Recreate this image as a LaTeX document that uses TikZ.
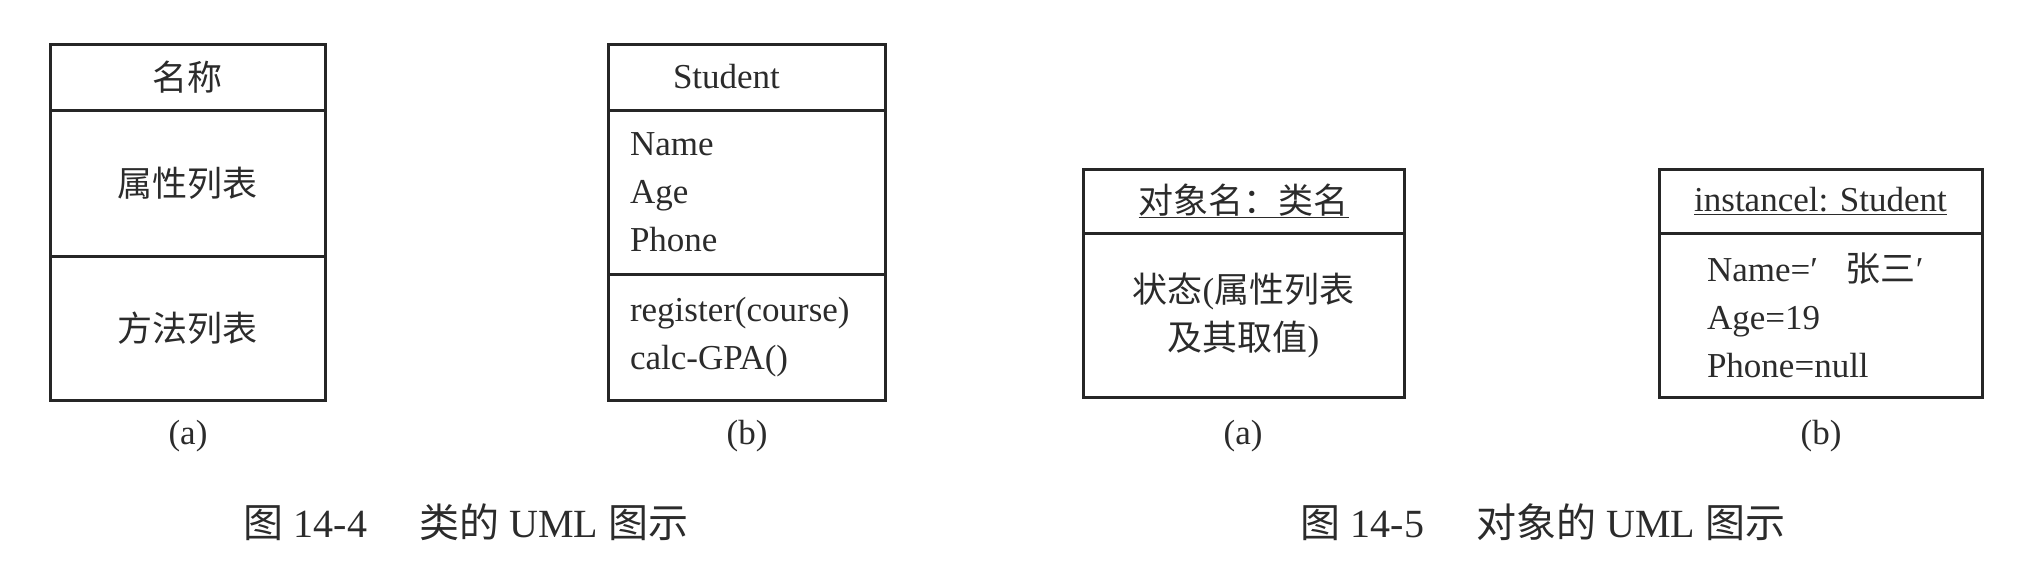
\documentclass[tikz,border=0pt]{standalone}
\usepackage{fontspec}
\setmainfont{Liberation Serif}
\newfontfamily\cjk{Noto Sans CJK SC}
\usetikzlibrary{positioning}
\definecolor{umlInk}{HTML}{262626}
\definecolor{umlText}{HTML}{2B2B2B}
\newcommand\umlfont{\fontsize{35}{48}\selectfont}
\newcommand\umlcapfont{\fontsize{40}{46}\selectfont}
\tikzset{
  uml part/.style={draw=umlInk, line width=3pt, inner sep=0pt, outer sep=0pt, font=\umlfont, text=umlText},
  uml list/.style={uml part, align=left, text width=233pt, inner xsep=22pt},
  uml tag/.style={font=\umlfont, text=umlText},
  uml caption/.style={font=\umlcapfont, text=umlText},
}

\begin{document}
\begin{tikzpicture}[x=1pt, y=-1pt]
  \useasboundingbox (0,0) rectangle (2036,584);

  % class, general form
  \node[uml part, minimum width=275pt, minimum height=66pt, anchor=north] (clsHead) at (187.5,44) {{\cjk 名称}};
  \node[uml part, minimum width=275pt, minimum height=146pt, below=0pt of clsHead] (clsAttr) {{\cjk 属性列表}};
  \node[uml part, minimum width=275pt, minimum height=144pt, below=0pt of clsAttr] (clsOps) {{\cjk 方法列表}};
  \node[uml tag] (clsTagA) at (188,436) {(a)};

  % class Student
  \node[uml part, minimum width=277pt, minimum height=66pt, text width=147pt, inner xsep=65pt, align=left, anchor=north] (stuHead) at (746.5,44) {Student};
  \node[uml list, minimum width=277pt, minimum height=164pt, below=0pt of stuHead] (stuAttr) {Name\\Age\\Phone};
  \node[uml list, minimum width=277pt, minimum height=126pt, below=0pt of stuAttr] (stuOps) {register(course)\\calc-GPA()};
  \node[uml tag] (clsTagB) at (747,436) {(b)};

  \node[uml caption] (capClass) at (466,522) {{\cjk 图} 14-4\hspace{1.3em}{\cjk 类的} UML {\cjk 图示}};

  % object, general form
  \node[uml part, minimum width=321pt, minimum height=64pt, anchor=north] (objHead) at (1243.5,169) {\underline{{\cjk 对象名：类名}}};
  \node[uml part, minimum width=321pt, minimum height=164pt, align=center, below=0pt of objHead] (objState) {{\cjk 状态}({\cjk 属性列表}\\{\cjk 及其取值})};
  \node[uml tag] (objTagA) at (1243,436) {(a)};

  % object instancel
  \node[uml part, minimum width=323pt, minimum height=64pt, anchor=north] (instHead) at (1820.5,169) {\underline{instancel: Student}};
  \node[uml list, minimum width=323pt, text width=227pt, inner xsep=48pt, minimum height=164pt, below=0pt of instHead] (instState) {Name=′\hspace{0.8em}{\cjk 张三}′\\Age=19\\Phone=null};
  \node[uml tag] (objTagB) at (1821,436) {(b)};

  \node[uml caption] (capObj) at (1543,522) {{\cjk 图} 14-5\hspace{1.3em}{\cjk 对象的} UML {\cjk 图示}};
\end{tikzpicture}
\end{document}
